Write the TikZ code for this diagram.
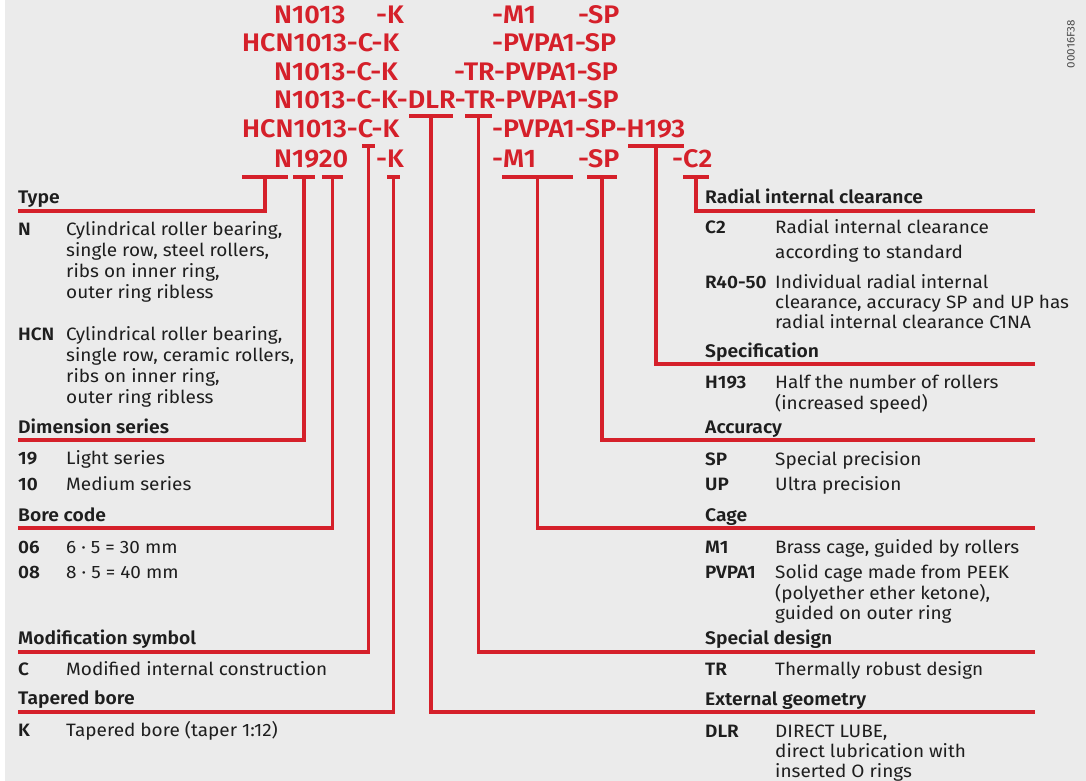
\documentclass[tikz,border=0pt]{standalone}
\usepackage{fontspec}
\setmainfont{Fira Sans}[BoldFont={* SemiBold}, FakeStretch=1.06]
\usetikzlibrary{calc}

\definecolor{fagred}{RGB}{213,32,42}
\definecolor{paper}{RGB}{235,235,235}
\definecolor{ink}{RGB}{30,30,30}

\newcommand\desclines[1]{\begin{tabular}[t]{@{}l@{}}#1\end{tabular}}

\tikzset{
  codetxt/.style={anchor=base west, inner sep=0pt, text=fagred, font=\fontsize{25.4}{29}\selectfont\bfseries},
  headtxt/.style={anchor=base west, inner sep=0pt, text=ink, font=\fontsize{18.2}{21}\selectfont\bfseries},
  itemkey/.style={anchor=base west, inner sep=0pt, text=ink, font=\fontsize{17.9}{21}\selectfont\bfseries},
  desc/.style={anchor=base west, inner sep=0pt, text=ink, font=\fontsize{17.9}{21.2}\selectfont},
  rdesc/.style={desc, font=\fontsize{17.9}{20}\selectfont},
  redline/.style={draw=fagred, line width=3.4pt},
}

\begin{document}
\begin{tikzpicture}[x=1pt, y=-1pt]
\useasboundingbox (0,0) rectangle (1086,781);
\fill[paper] (5,0) rectangle (1086,781);

% designation examples
\node[codetxt] (r1a) at (274,24) {N1013};
\node[codetxt] (r1b) at (376,24) {-K};
\node[codetxt] (r1c) at (492,24) {-M1};
\node[codetxt] (r1d) at (578,24) {-SP};
\node[codetxt] (r2a) at (242,52) {HCN1013-C-K};
\node[codetxt] (r2b) at (492,52) {-PVPA1-SP};
\node[codetxt] (r3a) at (274,81) {N1013-C-K};
\node[codetxt] (r3b) at (454,81) {-TR-PVPA1-SP};
\node[codetxt] (r4a) at (274,109) {N1013-C-K-DLR-TR-PVPA1-SP};
\node[codetxt] (r5a) at (242,138) {HCN1013-C-K};
\node[codetxt] (r5b) at (492,138) {-PVPA1-SP-H193};
\node[codetxt] (r6a) at (274,167) {N1920};
\node[codetxt] (r6b) at (376,167) {-K};
\node[codetxt] (r6c) at (492,167) {-M1};
\node[codetxt] (r6d) at (578,167) {-SP};
\node[codetxt] (r6e) at (672,167) {-C2};
\node[rotate=90, inner sep=0pt, text=ink!80, font=\fontsize{11}{13}\selectfont] (docno) at (1071,44) {00016F38};

% left column
\node[headtxt] (type) at (18,203) {Type};
\node[itemkey] (kN) at (18,235) {N};
\node[desc] (dN) at (66,235) {\desclines{Cylindrical roller bearing,\\single row, steel rollers,\\ribs on inner ring,\\outer ring ribless}};
\node[itemkey] (kHCN) at (18,340) {HCN};
\node[desc] (dHCN) at (66,340) {\desclines{Cylindrical roller bearing,\\single row, ceramic rollers,\\ribs on inner ring,\\outer ring ribless}};
\node[headtxt] (dim) at (18,433) {Dimension series};
\node[itemkey] (k19) at (18,464) {19};
\node[desc] (d19) at (66,464) {Light series};
\node[itemkey] (k10) at (18,490) {10};
\node[desc] (d10) at (66,490) {Medium series};
\node[headtxt] (bore) at (18,521) {Bore code};
\node[itemkey] (k06) at (18,553) {06};
\node[desc] (d06) at (66,553) {6 · 5 = 30 mm};
\node[itemkey] (k08) at (18,578) {08};
\node[desc] (d08) at (66,578) {8 · 5 = 40 mm};
\node[headtxt] (mod) at (18,644) {Modification symbol};
\node[itemkey] (kC) at (18,675) {C};
\node[desc] (dC) at (66,675) {Modified internal construction};
\node[headtxt] (taper) at (18,704) {Tapered bore};
\node[itemkey] (kK) at (18,736) {K};
\node[desc] (dK) at (66,736) {Tapered bore (taper 1:12)};

% right column
\node[headtxt] (clear) at (705,203) {Radial internal clearance};
\node[itemkey] (kC2) at (705,233) {C2};
\node[rdesc] (dC2) at (775,233) {\desclines{Radial internal clearance\\[5pt]according to standard}};
\node[itemkey] (kR) at (705,288) {R40-50};
\node[rdesc] (dR) at (775,288) {\desclines{Individual radial internal\\clearance, accuracy SP and UP has\\radial internal clearance C1NA}};
\node[headtxt] (spec) at (705,357) {Specification};
\node[itemkey] (kH) at (705,388) {H193};
\node[rdesc] (dH) at (775,388) {\desclines{Half the number of rollers\\(increased speed)}};
\node[headtxt] (acc) at (705,433) {Accuracy};
\node[itemkey] (kSP) at (705,465) {SP};
\node[rdesc] (dSP) at (775,465) {Special precision};
\node[itemkey] (kUP) at (705,490) {UP};
\node[rdesc] (dUP) at (775,490) {Ultra precision};
\node[headtxt] (cage) at (705,521) {Cage};
\node[itemkey] (kM1) at (705,553) {M1};
\node[rdesc] (dM1) at (775,553) {Brass cage, guided by rollers};
\node[itemkey] (kPV) at (705,578) {PVPA1};
\node[rdesc] (dPV) at (775,578) {\desclines{Solid cage made from PEEK\\(polyether ether ketone),\\guided on outer ring}};
\node[headtxt] (sdes) at (705,644) {Special design};
\node[itemkey] (kTR) at (705,675) {TR};
\node[rdesc] (dTR) at (775,675) {Thermally robust design};
\node[headtxt] (ext) at (705,705) {External geometry};
\node[itemkey] (kDLR) at (705,737) {DLR};
\node[rdesc] (dDLR) at (775,737) {\desclines{DIRECT LUBE,\\direct lubrication with\\inserted O rings}};

% bars under the symbols
\coordinate (typeL) at (242,177);  \coordinate (typeR) at (288,177);
\coordinate (dimL) at (293,177);   \coordinate (dimR) at (315,177);
\coordinate (boreL) at (322,177);  \coordinate (boreR) at (343,177);
\coordinate (modL) at (362,146);   \coordinate (modR) at (375,146);
\coordinate (taperL) at (387,177); \coordinate (taperR) at (400,177);
\coordinate (extL) at (409,116);   \coordinate (extR) at (453,116);
\coordinate (sdesL) at (465,116);  \coordinate (sdesR) at (492,116);
\coordinate (cageL) at (502,177);  \coordinate (cageR) at (573,177);
\coordinate (accL) at (587,177);   \coordinate (accR) at (617,177);
\coordinate (specL) at (628,146);  \coordinate (specR) at (684,146);
\coordinate (clearL) at (683,177); \coordinate (clearR) at (709,177);

% ends of the rules
\coordinate (typeE) at (18,211);
\coordinate (dimE) at (18,440);
\coordinate (boreE) at (18,528);
\coordinate (modE) at (18,652);
\coordinate (taperE) at (18,712);
\coordinate (clearE) at (1035,211);
\coordinate (specE) at (1035,364);
\coordinate (accE) at (1035,440);
\coordinate (cageE) at (1035,528);
\coordinate (sdesE) at (1035,652);
\coordinate (extE) at (1035,712);

% connectors
\foreach \g in {type,dim,bore,mod,taper,ext,sdes,cage,acc,spec,clear} {
  \draw[redline] (\g L) -- (\g R);
  \draw[redline] ($(\g L)!.5!(\g R)$) |- (\g E);
}
\end{tikzpicture}
\end{document}
